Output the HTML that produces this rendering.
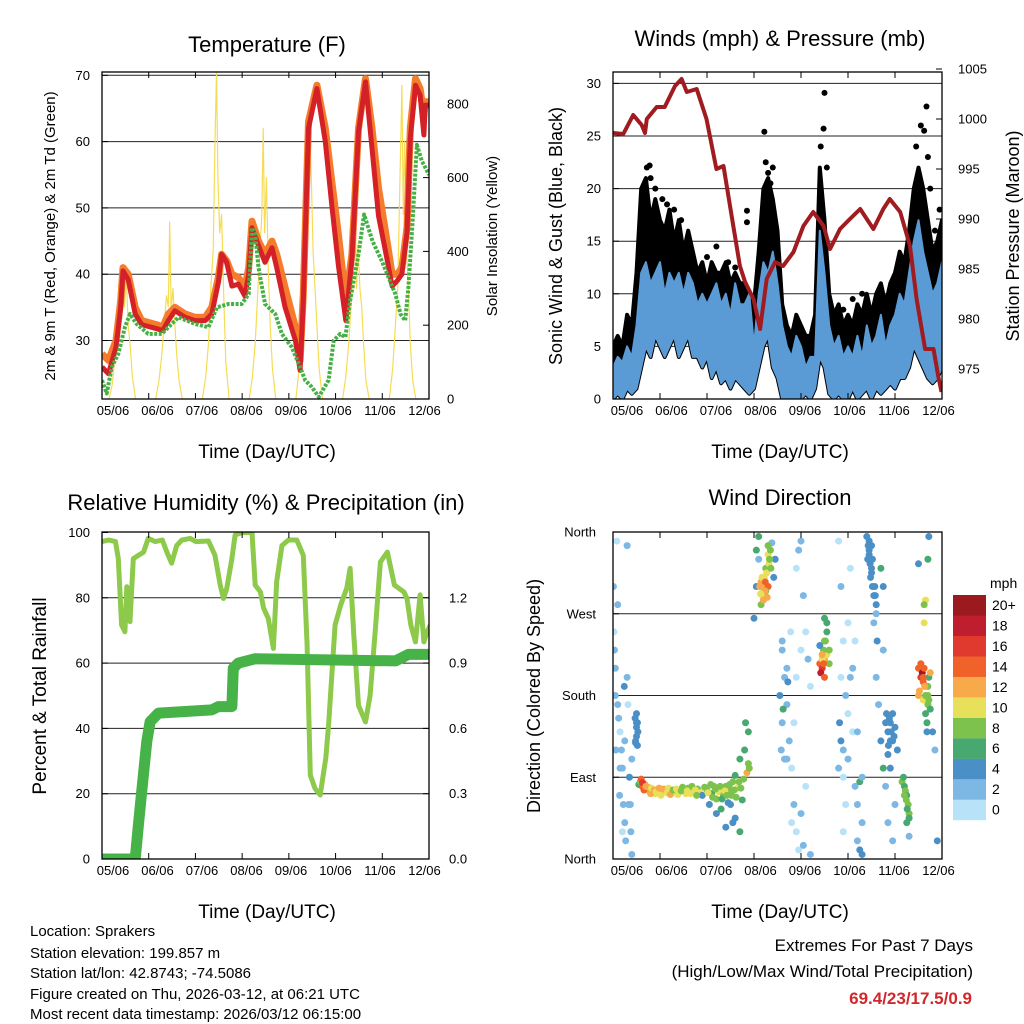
<!DOCTYPE html>
<html><head><meta charset="utf-8"><title>Station Meteogram</title>
<style>
html,body{margin:0;padding:0;background:#fff;}
svg{display:block;font-family:"Liberation Sans",Arial,sans-serif;}
</style></head>
<body>
<svg id="root" width="1024" height="1024" viewBox="0 0 1024 1024" xmlns="http://www.w3.org/2000/svg">
<defs>
<clipPath id="c1"><rect x="102" y="72" width="327" height="327"/></clipPath>
<clipPath id="c2"><rect x="613" y="72" width="329" height="327"/></clipPath>
<clipPath id="c3"><rect x="102" y="532" width="327" height="327"/></clipPath>
<clipPath id="c4"><rect x="613" y="532" width="329" height="327"/></clipPath>
</defs>
<g id="g1"></g>
<g id="g2"></g>
<g id="g3"></g>
<g id="g4"></g>

<text x="267" y="52" font-size="22" text-anchor="middle">Temperature (F)</text>
<text x="780" y="46" font-size="22" text-anchor="middle">Winds (mph) &amp; Pressure (mb)</text>
<text x="266" y="510" font-size="22" text-anchor="middle">Relative Humidity (%) &amp; Precipitation (in)</text>
<text x="780" y="505" font-size="22" text-anchor="middle">Wind Direction</text>

<text x="267" y="458" font-size="19" text-anchor="middle">Time (Day/UTC)</text>
<text x="780" y="458" font-size="19" text-anchor="middle">Time (Day/UTC)</text>
<text x="267" y="918" font-size="19" text-anchor="middle">Time (Day/UTC)</text>
<text x="780" y="918" font-size="19" text-anchor="middle">Time (Day/UTC)</text>

<text transform="translate(55,236) rotate(-90)" font-size="15" text-anchor="middle">2m &amp; 9m T (Red, Orange) &amp; 2m Td (Green)</text>
<text transform="translate(497,236) rotate(-90)" font-size="15" text-anchor="middle">Solar Insolation (Yellow)</text>
<text transform="translate(562,236) rotate(-90)" font-size="18" text-anchor="middle">Sonic Wind &amp; Gust (Blue, Black)</text>
<text transform="translate(1019,236) rotate(-90)" font-size="18" text-anchor="middle">Station Pressure (Maroon)</text>
<text transform="translate(46,696) rotate(-90)" font-size="19" text-anchor="middle">Percent &amp; Total Rainfall</text>
<text transform="translate(540,696) rotate(-90)" font-size="18" text-anchor="middle">Direction (Colored By Speed)</text>

<g font-size="15">
<text x="30" y="936">Location: Sprakers</text>
<text x="30" y="958">Station elevation: 199.857 m</text>
<text x="30" y="978">Station lat/lon: 42.8743; -74.5086</text>
<text x="30" y="999">Figure created on Thu, 2026-03-12, at 06:21 UTC</text>
<text x="30" y="1019">Most recent data timestamp: 2026/03/12 06:15:00</text>
</g>
<g font-size="17" text-anchor="end">
<text x="973" y="951">Extremes For Past 7 Days</text>
<text x="973" y="977">(High/Low/Max Wind/Total Precipitation)</text>
<text x="972" y="1004" fill="#d0282d" font-weight="bold">69.4/23/17.5/0.9</text>
</g>
</svg>
<script>
// ---------- DATA ----------
const dayLabels = ["05/06","06/06","07/06","08/06","09/06","10/06","11/06","12/06"];
const tempTicks = [30,40,50,60,70];
const solarTicks = [0,200,400,600,800];
const windTicks = [0,5,10,15,20,25,30];
const presTicks = [975,980,985,990,995,1000,1005];
const rhTicks = [0,20,40,60,80,100];
const rainTicks = [0.0,0.3,0.6,0.9,1.2];
const rainTickLabels = ["0.0","0.3","0.6","0.9","1.2"];
const dirTicks = [0,90,180,270,360];
const dirTickLabels = ["North","East","South","West","North"];
const speedBins = ["0","2","4","6","8","10","12","14","16","18","20+"];

const redDays = [0,0.14,0.3,0.4,0.45,0.56,0.71,0.85,1.21,1.3,1.42,1.56,1.78,1.99,2.21,2.35,2.49,2.56,2.67,2.78,2.92,3.06,3.14,3.21,3.35,3.49,3.64,3.74,3.92,4.14,4.24,4.31,4.42,4.6,4.78,4.92,5.06,5.22,5.35,5.49,5.64,5.78,5.92,6.1,6.21,6.32,6.42,6.53,6.6,6.71,6.81,6.89,6.92,7];
const redTemp = [26,25,29,35,40.5,39.2,34,32.4,31.7,31.5,33,34.5,33.5,33,33,34,38.7,43,41.8,38.2,38.5,36.7,40,47,44.3,41.8,44,41,35,30,25.5,36,62,68,60,50.4,41.3,33,42.3,61.5,69,59,48.8,42.3,38.2,39,40,46.3,60.5,68.5,67,61,65.5,65.5];
const orangeTemp = [28,27,30,36,41,40,35,33,32.3,32,34,35,34,33.5,33.5,35,39.5,43,42,40,39.5,38,41,48,45,43,45,43,38,32,27,37,63,68.5,62,54,46,36,43,62,69.5,62,53,45,40,40,41,47,62,69.5,68,64,66,66];
const tdDays = [0,0.1,0.21,0.35,0.49,0.6,0.74,0.99,1.28,1.49,1.64,1.99,2.28,2.46,2.71,2.99,3.14,3.21,3.28,3.35,3.49,3.71,3.85,4.06,4.24,4.35,4.49,4.64,4.85,4.96,5.1,5.21,5.31,5.49,5.61,5.79,5.99,6.28,6.39,6.49,6.56,6.64,6.74,6.85,6.89,7];
const tdTemp = [24,22,26,28,32,34,32.5,31,31,32.5,33.5,32.5,32,35,35.5,35.5,37,47,46,41,35.5,34,31,29,26,24,23,21.5,24,30,31,30.5,36,43,49,45,42,37,34,33,38,47,59.5,57,56.5,55];
const solarOffsets = [0.15,0.22,0.28,0.33,0.38,0.42,0.45,0.48,0.52,0.56,0.6,0.65,0.72];
const solarDay0 = [0,40,120,200,260,340,300,250,330,200,150,60,0];
const solarDay1 = [0,50,120,200,280,250,480,240,300,200,120,50,0];
const solarDay2 = [0,60,150,300,400,700,886,600,450,500,300,100,0];
const solarDay3 = [0,60,150,280,400,500,734,450,600,350,200,80,0];
const solarDay4 = [0,80,200,350,700,500,735,600,400,300,200,80,0];
const solarDay5 = [0,60,150,250,350,515,300,420,300,250,150,50,0];
const solarDay6 = [0,80,200,300,600,850,500,700,400,300,150,50,0];

const windDays = [0,0.1,0.2,0.3,0.4,0.5,0.6,0.7,0.8,0.9,1.0,1.1,1.2,1.3,1.4,1.5,1.6,1.7,1.8,1.9,2.0,2.1,2.2,2.3,2.4,2.5,2.6,2.7,2.8,2.9,3.0,3.1,3.2,3.3,3.4,3.5,3.6,3.7,3.8,3.9,4.0,4.1,4.2,4.3,4.4,4.5,4.6,4.7,4.8,4.9,5.0,5.1,5.2,5.3,5.4,5.5,5.6,5.7,5.8,5.9,6.0,6.1,6.2,6.3,6.4,6.5,6.6,6.7,6.8,6.9,7.0];
const windHi = [3,4,3.5,5,4,7,12,13,11,12,13,10,12,11,12,10,12,11,9,10,9,10,11,9,10,8,11,9,9,10,5,10,13,12,14,11,7,5,4,6,5,3,4,4,16,12,7,5,6,4,5,4,6,4,7,5,6,8,5,7,8,10,9,12,15,17,14,12,10,11,13];
const windLo = [0,0.5,0,1,0.5,1,3,5,4,6,5,4,5,6,4,5,6,4,4,3,4,2,3,1.5,2,1,2,1.5,1,0.5,1,3,5,6,3,2,0,0,0,0,0,0.5,0,1,4,3,0.5,0,0.5,0,0,1,0,0.5,1,0,1,0.5,1,1.5,1,2,2,3,5,4,3,2,1.5,2,3];
const gustHi = [5,6,5,8,7,12,20,21,17,19,17,16,18,15,17,14,16,14,12,13,11,13,12,12,13,11,12,11,11,10,9,14,20,21,19,16,9,7,6,8,7,6,6,8,22,17,10,8,9,7,8,7,9,8,10,8,10,11,9,11,12,14,13,16,20,22,20,17,14,15,17];
const gustDotDays = [3.22,2.85,2.85,4.5,4.48,6.67,6.62,2.2,5.86,5.6,0.78,0.8,3.3,3.4,6.75,0.65,0.72,0.9,1.05,1.15,1.3,1.45,2.0,2.45,2.6,3.25,3.35,4.42,4.55,6.45,6.55,6.7,6.85,6.95,5.1,5.3,4.9];
const gustDotVals = [25.4,17.9,16.8,29.1,25.7,27.8,25.5,14.5,9.2,7.9,22.2,21,21.5,22,20,19,22,20,19,18.5,18,17,13.5,13,12.5,22.5,20.5,24,22,24,26,23,16,18,9.5,10,8.5];
const presDays = [0,0.22,0.43,0.61,0.68,0.72,0.93,1.1,1.32,1.46,1.57,1.78,1.99,2.2,2.35,2.56,2.7,2.81,2.99,3.13,3.27,3.45,3.62,3.84,4.05,4.26,4.48,4.62,4.83,5.04,5.26,5.54,5.75,5.89,6.11,6.32,6.46,6.64,6.82,6.92,6.99];
const presVals = [998.6,998.5,1000.4,999.4,998.6,1000,1001.2,1001.2,1003.3,1004,1002.7,1003,1000,995,995.3,989.3,985.3,983.7,982,979,984,985.7,985.3,986.7,989.3,990.7,989.3,987,989,990,991,989,991,992,990.7,987.3,982,977,977,974.3,972.7];

const rhDays = [0,0.14,0.29,0.35,0.42,0.49,0.53,0.6,0.67,0.78,0.89,0.99,1.14,1.29,1.39,1.49,1.6,1.71,1.89,2.01,2.28,2.42,2.53,2.6,2.67,2.78,2.85,2.99,3.21,3.28,3.39,3.46,3.56,3.67,3.74,3.85,3.99,4.17,4.31,4.39,4.46,4.56,4.67,4.79,4.85,4.99,5.11,5.24,5.31,5.39,5.49,5.64,5.74,5.86,5.96,6.11,6.26,6.46,6.53,6.61,6.71,6.81,6.89,6.96,7.03];
const rhVals = [97.2,97.7,97.2,92,71.7,69.6,83.4,72.7,92,93,94,98.2,97.2,97.7,94,90.6,96,97.7,98.2,97.2,97.4,93,83.9,79.8,82.8,92,99.2,100,100,83.9,81.8,76.8,73.7,64.5,85,96,97.7,97.7,93,65.5,25.7,21.6,19.6,30.9,41.1,71.7,77.8,83,89,68.6,47,42,50.1,71.7,91,94,83.9,81.8,79.8,71.7,66.5,80.9,66.5,69.6,71.7];
const rainDays = [0,0.71,0.78,0.85,0.96,1.03,1.21,2.35,2.49,2.78,2.81,2.92,3.28,6.28,6.56,7.03];
const rainVals = [0,0,0.156,0.309,0.54,0.63,0.67,0.685,0.7,0.7,0.877,0.9,0.92,0.91,0.94,0.94];

const dirDays = [0.01,0.02,0.03,0.05,0.08,0.1,0.12,0.15,0.18,0.2,0.22,0.25,0.27,0.3,0.32,0.35,0.37,0.38,0.4,0.4,0.3,0.06,0.14,0.2,0.24,
0.5,0.5,0.52,0.48,0.53,0.47,
0.55,0.58,0.62,0.65,0.68,0.72,0.78,0.85,0.9,0.95,1.0,1.05,1.1,1.2,1.25,1.3,1.4,1.5,1.55,1.6,1.7,1.8,1.85,1.9,2.0,2.05,2.1,2.15,2.2,2.25,2.3,2.35,2.4,2.45,2.5,2.55,2.6,2.65,2.7,2.75,2.8,2.85,2.88,2.9,2.82,2.2,2.5,2.88,
3.0,3.05,3.05,3.1,3.15,3.18,3.2,3.22,3.25,3.3,3.32,3.28,3.35,3.38,3.42,3.1,3.15,3.3,3.25,3.45,
3.55,3.6,3.65,3.6,3.7,3.75,3.8,3.85,3.9,3.95,3.7,3.72,3.78,3.9,3.95,4.0,4.05,4.1,4.15,4.2,3.62,3.58,4.0,4.05,4.2,3.85,3.7,
4.4,4.45,4.42,4.5,4.55,4.5,4.55,4.5,4.48,4.45,4.4,4.6,4.5,
4.8,4.85,4.9,4.95,4.82,4.85,4.9,5.0,5.1,5.15,5.2,5.2,5.25,5.25,5.3,4.9,5.0,5.1,5.05,4.95,5.3,5.3,
5.4,5.45,5.42,5.5,5.48,5.52,5.55,5.6,5.45,5.5,5.55,5.6,5.65,5.7,5.75,5.7,5.75,
5.8,5.85,5.9,5.95,5.85,6.0,5.9,5.8,6.0,5.85,5.95,5.75,6.05,
6.15,6.2,6.22,6.25,6.28,6.3,6.25,6.18,6.3,
6.5,6.55,6.6,6.58,6.52,6.5,6.6,6.65,6.7,6.7,6.65,6.68,6.72,6.75,6.62,6.65,6.7,6.72,6.8,6.85,6.9,6.5,6.62];
const dirDeg = [300,250,230,180,350,280,155,140,120,100,60,40,20,200,170,90,60,30,5,110,345,120,70,30,190,
145,135,150,128,140,155,
82,85,80,78,82,76,75,74,72,76,72,75,74,76,73,74,73,76,72,78,74,77,73,70,76,60,72,80,66,74,55,70,80,62,76,85,92,78,110,65,120,95,140,100,150,50,60,105,
265,300,340,330,305,290,298,310,320,335,325,288,340,348,310,355,280,300,295,330,
180,150,200,240,170,130,100,60,30,10,210,195,250,320,340,350,290,250,220,190,165,120,50,15,5,150,110,
215,210,205,220,225,240,250,265,230,220,235,215,200,
350,300,240,180,150,130,120,110,140,80,60,20,10,85,40,30,260,210,320,60,5,90,
355,340,330,320,310,300,290,280,350,345,260,200,170,130,100,320,300,
150,140,130,160,115,145,100,80,60,40,20,230,120,
85,80,75,70,60,50,40,90,25,
210,200,195,205,185,180,175,180,190,170,160,150,200,205,260,285,330,355,140,120,20,325,280];
const dirSpeed = [2,1,3,2,1,2,3,1,2,3,2,3,2,3,1,5,3,3,3,2,3,2,2,1,4,
5,5,5,5,5,4,
7,8,14,15,12,10,12,13,11,12,10,13,12,8,11,10,10,9,11,8,9,8,10,5,9,4,6,8,8,10,7,9,8,4,8,8,7,10,7,7,7,12,7,8,6,5,5,9,
5,4,6,2,12,11,12,10,8,11,10,12,8,2,5,6,8,14,8,4,
4,3,3,2,2,2,1,2,1,1,3,5,1,1,2,3,2,1,3,1,6,2,2,3,2,1,2,
14,16,18,12,10,8,6,6,8,10,5,8,14,
1,2,1,2,4,4,3,2,1,3,2,3,4,6,3,1,1,2,1,1,4,3,
4,4,4,4,5,4,4,4,4,5,3,2,3,5,6,6,5,
5,5,4,4,4,4,5,2,3,2,2,2,5,
8,7,8,6,8,8,7,6,2,
14,16,14,20,12,12,10,8,8,8,6,6,7,12,10,10,6,4,4,3,4,4,8];
const dirDaysExtra = [0.6,0.63,0.66,0.7,0.75,0.8,0.82,0.88,0.92,0.98,1.02,1.08,1.15,1.18,1.22,1.28,1.35,1.38,1.45,1.48,1.58,1.65,1.68,1.75,1.78,1.95,2.02,2.08,2.12,2.18,2.28,2.32,2.38,2.42,2.48,2.52,2.58,2.62,2.68,2.72,2.78,2.6,2.55,2.4,2.7,
3.12,3.17,3.2,3.23,3.27,3.3,3.33,3.36,3.14,3.24,
5.45,5.47,5.5,5.52,5.43,5.58,5.6,5.62,5.57,
5.82,5.88,5.92,5.86,5.95,5.9,5.98,
6.55,6.6,6.63,6.7,6.72,6.75,6.68,6.62,
6.2,6.24,6.26,6.3,
4.45,4.48,4.52,4.55,4.6,
0.5,0.52,0.48,0.5,
3.6,3.65,3.8,3.9,4.0,4.1,4.9,5.0,5.05,5.15,5.2,4.8,4.85,
0.05,0.1,0.15,0.25,0.33];
const dirDegExtra = [88,84,76,80,79,72,78,76,74,78,70,77,73,78,71,76,77,71,75,79,75,72,80,76,70,79,73,82,68,77,80,66,75,70,82,70,76,68,85,78,88,45,40,35,30,
300,310,285,295,315,345,330,320,292,305,
335,325,315,330,345,290,270,240,300,
160,155,140,125,130,150,135,
215,200,190,180,175,165,140,210,
70,65,55,45,
225,215,240,260,230,
160,125,130,150,
230,110,40,200,230,80,90,160,200,240,140,100,200,
210,170,100,130,60];
const dirSpeedExtra = [15,16,14,13,12,12,11,12,10,12,11,12,10,11,12,9,10,10,9,8,10,10,9,10,9,8,10,8,9,9,8,6,10,8,9,8,9,8,8,9,8,4,5,4,6,
12,11,12,13,10,8,9,8,11,14,
4,4,5,4,4,4,3,4,4,
4,4,4,5,4,4,4,
15,14,12,8,8,7,5,14,
8,8,7,7,
13,14,9,7,9,
4,5,4,5,
2,2,1,1,1,1,1,1,2,1,2,2,1,
2,2,3,2,2];

// ---------- HELPERS ----------
const NS = "http://www.w3.org/2000/svg";
function mk(tag, attrs, parent){
  const e = document.createElementNS(NS, tag);
  for (const k in attrs) e.setAttribute(k, attrs[k]);
  parent.appendChild(e);
  return e;
}
function pts(xs, ys, fx, fy){ return xs.map((d,i)=>fx(d).toFixed(1)+","+fy(ys[i]).toFixed(1)).join(" "); }
const speedColors = ["#b7e2f8","#7db8e4","#4a8fc6","#47a870","#7dc24c","#e8e05a","#f8a94a","#f0622a","#e03a2e","#be1e2d","#9b1a1e"];
function speedColor(s){ let i=Math.floor(s/2); if(i>10)i=10; if(i<0)i=0; return speedColors[i]; }

function frame(g, x0, x1, y0, y1, labelY, labelX0){
  for (let i=0;i<=7;i++){
    const x = x0 + i*(x1-x0)/7;
    let t = mk("line",{x1:x,x2:x,y1:y1,y2:y1-6,stroke:"#000","stroke-width":1},g);
    
    
    t = mk("line",{x1:x,x2:x,y1:y0,y2:y0+6,stroke:"#000","stroke-width":1},g);
    
    
    const lbl = mk("text",{x:labelX0 + i*44.5, y:labelY, "font-size":13, "text-anchor":"middle"},g);
    lbl.textContent = dayLabels[i];
    
    
  }
  const b = mk("rect",{x:x0,y:y0,width:x1-x0,height:y1-y0,fill:"none",stroke:"#000","stroke-width":1.3},g);
  
  
}
function hgrid(g, x0, x1, y){
  const l = mk("line",{x1:x0,x2:x1,y1:y,y2:y,stroke:"#222","stroke-width":1},g);
  
  
}
function ylabel(g, x, y, txt, anchor, size){
  const t = mk("text",{x:x,y:y+4.5,"font-size":size||13,"text-anchor":anchor},g);
  t.textContent = txt;
  
  
  return t;
}
function ytick(g, x, y, dir){
  const t = mk("line",{x1:x,x2:x+dir*6,y1:y,y2:y,stroke:"#000","stroke-width":1},g);
  
  
}

// ---------- PANEL 1 ----------
(function(){
  const g = document.getElementById("g1");
  const X = d => 102 + d*327/7;
  const YT = v => 75.3 + (70-v)*6.63;
  const YS = s => 399 - s*0.369;
  tempTicks.forEach(v=>{ hgrid(g,102,429,YT(v)); ytick(g,102,YT(v),1); ylabel(g,90,YT(v),String(v),"end"); });
  solarTicks.forEach(v=>{ ytick(g,429,YS(v),-1); ylabel(g,447,YS(v),String(v),"start"); });
  const cg = mk("g",{"clip-path":"url(#c1)"},g);
  
  
  const solarAll = [solarDay0,solarDay1,solarDay2,solarDay3,solarDay4,solarDay5,solarDay6];
  solarAll.forEach((arr,k)=>{
    const ds = solarOffsets.map(o=>k+o);
    const p = mk("polyline",{points:pts(ds,arr,X,YS),fill:"none",stroke:"#f6dc55","stroke-width":1.2,"stroke-linejoin":"round"},cg);
    
    
  });
  let p = mk("polyline",{points:pts(redDays,orangeTemp,X,YT),fill:"none",stroke:"#f47c2c","stroke-width":7,"stroke-linejoin":"round"},cg);
  
  
  p = mk("polyline",{points:pts(redDays,redTemp,X,YT),fill:"none",stroke:"#d42027","stroke-width":5,"stroke-linejoin":"round"},cg);
  
  
  p = mk("polyline",{points:pts(tdDays,tdTemp,X,YT),fill:"none",stroke:"#45b044","stroke-width":4,"stroke-dasharray":"3 1.5","stroke-linejoin":"round"},cg);
  
  
  frame(g,102,429,72,399,415,113);
})();

// ---------- PANEL 2 ----------
(function(){
  const g = document.getElementById("g2");
  const X = d => 613 + d*329/7;
  const YW = v => 399 - v*10.52;
  const YP = p => 119 + (1000-p)*10;
  windTicks.forEach(v=>{ if(v>0) hgrid(g,613,942,YW(v)); ytick(g,613,YW(v),1); ylabel(g,601,YW(v),String(v),"end"); });
  presTicks.forEach(v=>{ ytick(g,942,YP(v),-1); ylabel(g,958,YP(v),String(v),"start"); });
  const cg = mk("g",{"clip-path":"url(#c2)"},g);
  
  
  const rev = a => a.slice().reverse();
  let poly = pts(windDays,gustHi,X,YW)+" "+pts(rev(windDays),rev(windLo),X,YW);
  let p = mk("polygon",{points:poly,fill:"#000",stroke:"#000","stroke-width":4,"stroke-linejoin":"round"},cg);
  
  
  gustDotDays.forEach((d,i)=>{
    const c = mk("circle",{cx:X(d),cy:YW(gustDotVals[i]),r:3,fill:"#000"},cg);
    
    
  });
  poly = pts(windDays,windHi,X,YW)+" "+pts(rev(windDays),rev(windLo),X,YW);
  p = mk("polygon",{points:poly,fill:"#5b9bd5",stroke:"#5b9bd5","stroke-width":2,"stroke-linejoin":"round"},cg);
  
  
  p = mk("polyline",{points:pts(presDays,presVals,X,YP),fill:"none",stroke:"#a01c20","stroke-width":4,"stroke-linejoin":"round"},cg);
  
  
  frame(g,613,942,72,399,415,627);
})();

// ---------- PANEL 3 ----------
(function(){
  const g = document.getElementById("g3");
  const X = d => 102 + d*327/7;
  const YH = v => 859 - v*3.265;
  const YR = r => 859 - r*217.7;
  rhTicks.forEach(v=>{ if(v>0&&v<100) hgrid(g,102,429,YH(v)); ytick(g,102,YH(v),1); ylabel(g,90,YH(v),String(v),"end"); });
  rainTicks.forEach((v,i)=>{ ytick(g,429,YR(v),-1); ylabel(g,449,YR(v),rainTickLabels[i],"start"); });
  const cg = mk("g",{"clip-path":"url(#c3)"},g);
  
  
  let p = mk("polyline",{points:pts(rhDays,rhVals,X,YH),fill:"none",stroke:"#8dc94a","stroke-width":5,"stroke-linejoin":"round"},cg);
  
  
  p = mk("polyline",{points:pts(rainDays,rainVals,X,YR),fill:"none",stroke:"#46b247","stroke-width":11,"stroke-linejoin":"round","stroke-linecap":"round"},cg);
  
  
  frame(g,102,429,532,859,875,113);
})();

// ---------- PANEL 4 ----------
(function(){
  const g = document.getElementById("g4");
  const X = d => 613 + d*329/7;
  const YD = v => 859 - v*327/360;
  dirTicks.forEach((v,i)=>{ if(v>0&&v<360) hgrid(g,613,942,YD(v)); ytick(g,613,YD(v),1); ylabel(g,596,YD(v),dirTickLabels[i],"end"); });
  const cg = mk("g",{"clip-path":"url(#c4)"},g);
  
  
  const allDays = dirDays.concat(dirDaysExtra);
  const allDeg = dirDeg.concat(dirDegExtra);
  const allSpd = dirSpeed.concat(dirSpeedExtra);
  allDays.forEach((d,i)=>{
    const c = mk("circle",{cx:X(d),cy:YD(allDeg[i]),r:3.5,fill:speedColor(allSpd[i])},cg);
    
    
  });
  frame(g,613,942,532,859,875,627);
  const cb = mk("g",{},g);
  
  
  const t = mk("text",{x:990,y:588,"font-size":14},cb);
  t.textContent = "mph";
  
  
  speedBins.forEach((lab,i)=>{
    const y = 799.6 - i*20.46;
    const r = mk("rect",{x:953,y:y,width:33,height:20.6,fill:speedColors[i]},cb);
    
    
    const tx = mk("text",{x:992,y:y+15,"font-size":14},cb);
    tx.textContent = lab;
    
    
  });
})();
</script>
</body></html>
